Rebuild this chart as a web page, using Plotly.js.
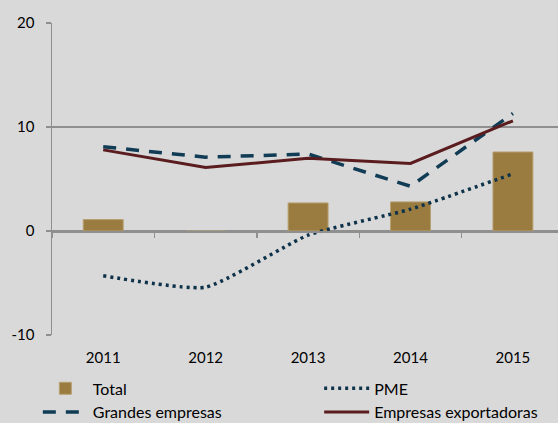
<!DOCTYPE html>
<html>
<head>
<meta charset="utf-8">
<script src="https://cdn.plot.ly/plotly-3.0.1.min.js"></script>
<style>html,body{margin:0;padding:0;background:#d9d9d9;}#chart{width:558px;height:423px;}</style>
</head>
<body>
<div id="chart"></div>
<script>
var years = ["2011", "2012", "2013", "2014", "2015"];
var total = [1.1, -0.1, 2.7, 2.8, 7.6];
var pme = [-4.3, -5.4, -0.4, 2.1, 5.5];
var grandes = [8.1, 7.1, 7.4, 4.3, 11.3];
var exportadoras = [7.8, 6.1, 7.0, 6.5, 10.6];
var yTickVals = [-10, 0, 10, 20];
var yTickText = ["-10", "0", "10", "20"];

var font = "Lato, 'Open Sans', sans-serif";

var traces = [
  {type: "bar", name: "Total", x: years, y: total, legend: "legend",
   marker: {color: "#9b7c40", line: {color: "#b7a072", width: 1}}, width: 0.39},
  {type: "scatter", mode: "lines", name: "Grandes empresas", x: years, y: grandes, xaxis: "x2", legend: "legend",
   line: {color: "#113c55", width: 3.5, dash: "13px,10px"}},
  {type: "scatter", mode: "lines", name: "PME", x: years, y: pme, xaxis: "x2", legend: "legend2",
   line: {color: "#0e3249", width: 3.5, dash: "3px,4px", shape: "spline", smoothing: 0.5}},
  {type: "scatter", mode: "lines", name: "Empresas exportadoras", x: years, y: exportadoras, xaxis: "x2", legend: "legend2",
   line: {color: "#5a1c1e", width: 3}}
];

var legendCommon = {
  orientation: "v", yref: "container", y: 0.122, yanchor: "top", xanchor: "left",
  traceorder: "normal", tracegroupgap: 0, itemwidth: 45,
  font: {family: font, size: 16, color: "#000"}, bgcolor: "rgba(0,0,0,0)"
};

var layout = {
  width: 558, height: 423,
  margin: {l: 52, r: 0, t: 23, b: 88, autoexpand: false},
  paper_bgcolor: "#d9d9d9", plot_bgcolor: "#d9d9d9",
  font: {family: font, size: 14, color: "#000"},
  showlegend: true,
  xaxis: {
    type: "category", range: [-0.5, 4.44], categoryarray: years,
    showgrid: false, zeroline: false, showline: false, ticks: "",
    ticklabelstandoff: 12, tickfont: {family: font, size: 15}
  },
  xaxis2: {
    type: "category", range: [-0.5, 4.44], categoryarray: years,
    overlaying: "x", anchor: "free", position: 1/3,
    showgrid: false, zeroline: false, showline: true, linecolor: "#8f8f8f", linewidth: 1.5,
    ticks: "outside", tickson: "boundaries", ticklen: 5, tickcolor: "#8f8f8f", tickwidth: 1.5,
    showticklabels: false
  },
  yaxis: {
    range: [-10, 20], tickmode: "array", tickvals: yTickVals, ticktext: yTickText,
    showgrid: true, gridcolor: "#8f8f8f", gridwidth: 1.5,
    zeroline: false, showline: true, linecolor: "#8f8f8f", linewidth: 1.5,
    ticks: "outside", ticklen: 5, tickcolor: "#8f8f8f", tickwidth: 1.5,
    ticklabelstandoff: 8, tickfont: {family: font, size: 15}
  },
  legend: Object.assign({}, legendCommon, {x: -0.028}),
  legend2: Object.assign({}, legendCommon, {x: 0.528})
};

Plotly.newPlot("chart", traces, layout, {staticPlot: true, displayModeBar: false});
</script>
</body>
</html>
